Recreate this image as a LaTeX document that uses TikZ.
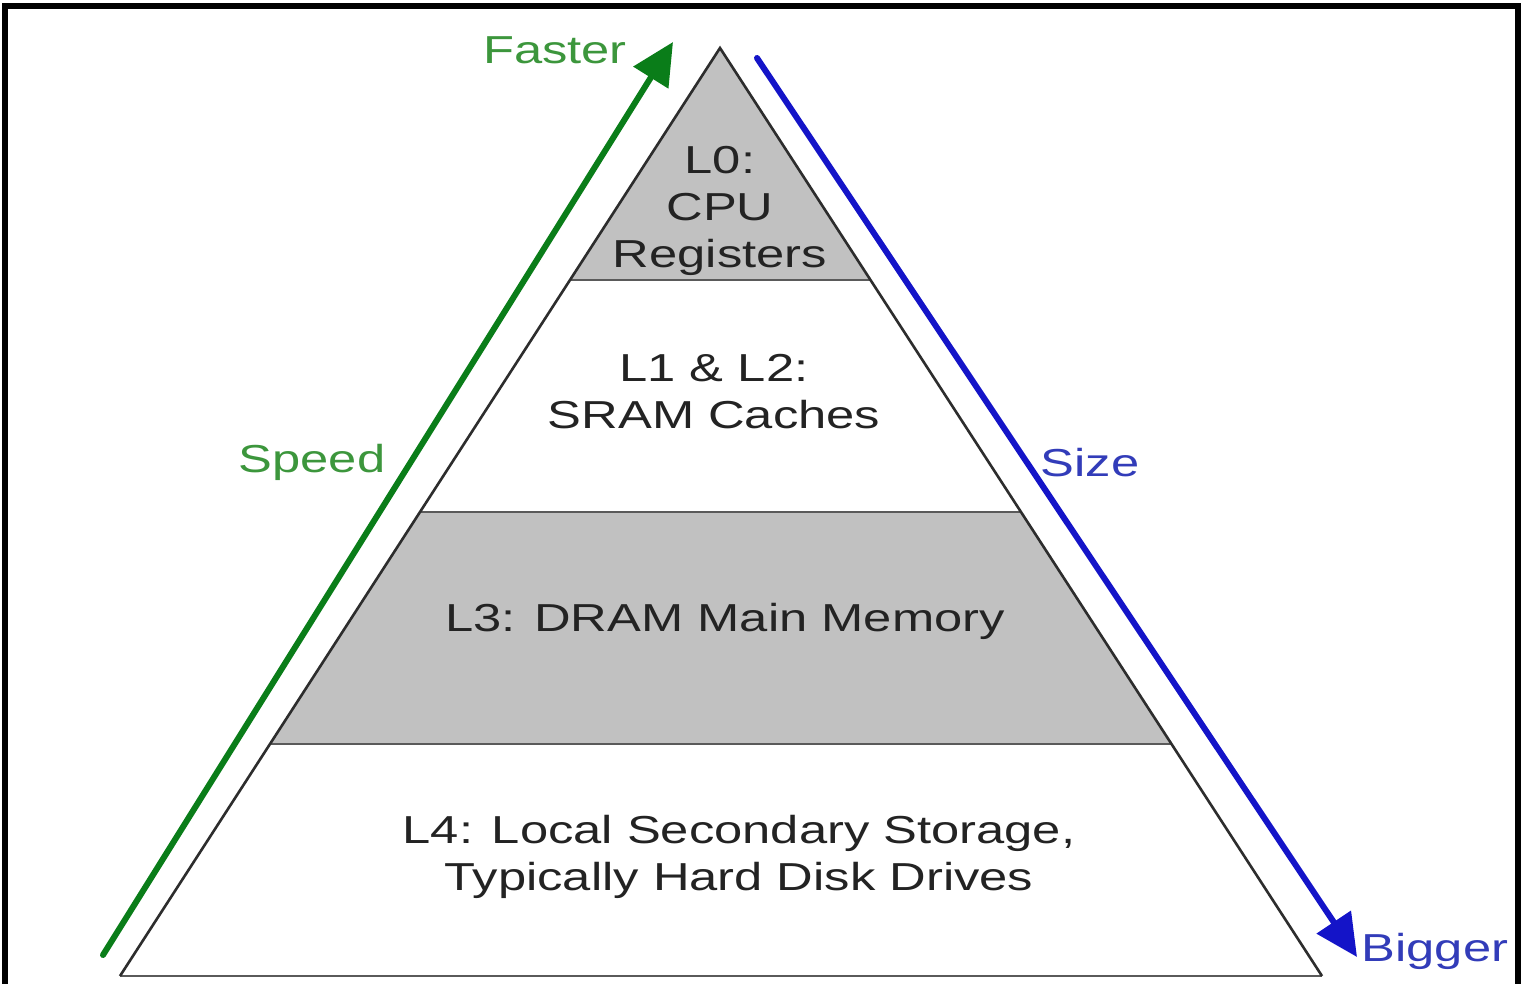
\documentclass[tikz,border=0pt]{standalone}
\usepackage{fontspec}
\setmainfont{Liberation Sans}[FakeStretch=1.3]
\usetikzlibrary{calc,arrows.meta}
\definecolor{bandgray}{RGB}{193,193,193}
\definecolor{edgegray}{RGB}{45,45,45}
\definecolor{sepgray}{RGB}{90,90,90}
\definecolor{arrowgreen}{RGB}{10,125,25}
\definecolor{textgreen}{RGB}{60,150,60}
\definecolor{arrowblue}{RGB}{20,20,200}
\definecolor{textblue}{RGB}{50,60,185}
\definecolor{labelgray}{RGB}{35,35,35}
\begin{document}
\begin{tikzpicture}[x=1pt,y=-1pt,
  lvl/.style={font=\fontsize{39}{47}\selectfont, text=labelgray, align=center, inner sep=0pt},
  axislbl/.style={font=\fontsize{39}{47}\selectfont, inner sep=0pt},
  edgeline/.style={draw=edgegray, line width=2.6pt, line join=miter},
  sepline/.style={draw=sepgray, line width=2pt},
  bigarrow/.style={line width=6pt, line cap=round, -{Triangle[length=42pt,width=40pt]}}]
\useasboundingbox (0,0) rectangle (1521,984);
\fill[white] (0,0) rectangle (1521,984);
% frame
\draw[black, line width=6pt, line join=miter] (5,984) -- (5,6.5) -- (1518,6.5) -- (1518,984);
% pyramid
\coordinate (A) at (720,48);
\coordinate (BL) at (120,976);
\coordinate (BR) at (1322,976);
\coordinate (l1) at ($(A)!0.25!(BL)$);
\coordinate (r1) at ($(A)!0.25!(BR)$);
\coordinate (l2) at ($(A)!0.5!(BL)$);
\coordinate (r2) at ($(A)!0.5!(BR)$);
\coordinate (l3) at ($(A)!0.75!(BL)$);
\coordinate (r3) at ($(A)!0.75!(BR)$);
\fill[bandgray] (A) -- (l1) -- (r1) -- cycle;
\fill[bandgray] (l2) -- (r2) -- (r3) -- (l3) -- cycle;
\draw[sepline] (l1) -- (r1);
\draw[sepline] (l2) -- (r2);
\draw[sepline] (l3) -- (r3);
\draw[sepline] (BL) -- (BR);
\draw[edgeline] (BL) -- (A) -- (BR);
% level labels
\node[lvl] (L0) at (720,211) {L0:\\CPU\\Registers};
\node[lvl] (L12) at (714,392) {L1 \& L2:\\SRAM Caches};
\node[lvl] (L3) at (725,621) {L3: DRAM Main Memory};
\node[lvl] (L4) at (739,857) {L4: Local Secondary Storage,\\Typically Hard Disk Drives};
% arrows
\coordinate (gs) at (103,955);
\coordinate (gt) at (673,42);
\coordinate (bs) at (757,58);
\coordinate (bt) at (1357,957);
\draw[bigarrow, arrowgreen] (gs) -- (gt);
\draw[bigarrow, arrowblue] (bs) -- (bt);
\node[axislbl, text=textgreen] (faster) at (555,50) {Faster};
\node[axislbl, text=textgreen] (speed) at (312,462) {Speed};
\node[axislbl, text=textblue] (size) at (1090,463) {Size};
\node[axislbl, text=textblue] (bigger) at (1435,951) {Bigger};
\end{tikzpicture}
\end{document}
